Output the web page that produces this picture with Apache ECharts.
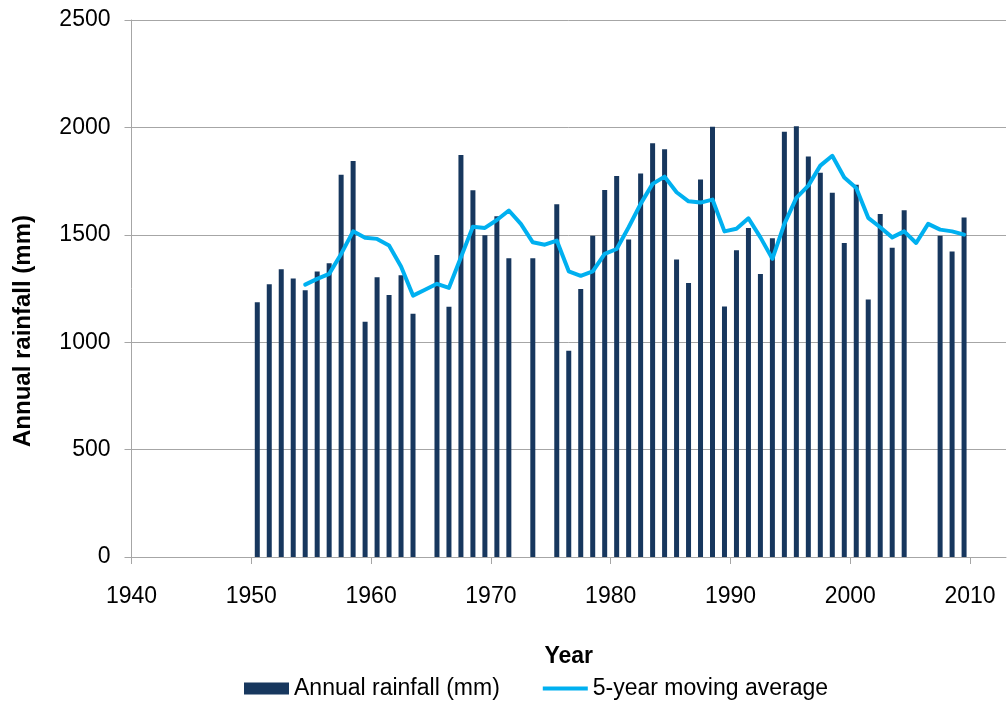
<!DOCTYPE html>
<html>
<head>
<meta charset="utf-8">
<script src="https://cdn.jsdelivr.net/npm/echarts@6/dist/echarts.min.js"></script>
<style>
html,body{margin:0;padding:0;background:#fff;}
#chart{width:1008px;height:704px;}
</style>
</head>
<body>
<div id="chart"></div>
<script>
// Annual rainfall (bars)
var rainYears = [1950,1951,1952,1953,1954,1955,1956,1957,1958,1959,
                 1960,1961,1962,1963,1965,1966,1967,1968,1969,
                 1970,1971,1973,1975,1976,1977,1978,1979,
                 1980,1981,1982,1983,1984,1985,1986,1987,1988,1989,
                 1990,1991,1992,1993,1994,1995,1996,1997,1998,1999,
                 2000,2001,2002,2003,2004,2007,2008,2009];
var rainfall = [1186,1270,1340,1296,1242,1329,1367,1779,1844,1095,
                1302,1220,1312,1132,1406,1165,1872,1707,1498,
                1586,1391,1391,1642,960,1248,1495,1709,
                1774,1478,1785,1926,1898,1385,1276,1757,2003,1166,
                1428,1532,1318,1484,1980,2005,1865,1789,1696,1462,
                1733,1199,1597,1440,1614,1496,1422,1581];

// 5-year moving average (line)
var avgYears = [1954,1955,1956,1957,1958,1959,1960,1961,1962,1963,1964,1965,1966,1967,1968,1969,
                1970,1971,1972,1973,1974,1975,1976,1977,1978,1979,
                1980,1981,1982,1983,1984,1985,1986,1987,1988,1989,
                1990,1991,1992,1993,1994,1995,1996,1997,1998,1999,
                2000,2001,2002,2003,2004,2005,2006,2007,2008,2009];
var movingAvg = [1268,1295,1318,1411,1516,1486,1481,1450,1352,1217,1244,1272,1253,1395,1538,1532,
                 1569,1613,1551,1465,1454,1473,1330,1309,1330,1411,
                 1434,1535,1644,1737,1771,1698,1656,1650,1664,1516,
                 1528,1577,1488,1388,1551,1672,1729,1822,1868,1767,
                 1718,1579,1535,1488,1516,1462,1551,1524,1516,1501];

var xTicks = [1940,1950,1960,1970,1980,1990,2000,2010];
var yTicks = [0,500,1000,1500,2000,2500];

var FONT = "'Liberation Sans', Arial, sans-serif";
var GRID_COLOR = '#a6a6a6';

// each annual value is drawn at the middle of its year
var barData = rainYears.map(function(y,i){ return [y + 0.5, rainfall[i]]; });
var lineData = avgYears.map(function(y,i){ return [y + 0.5, movingAvg[i]]; });

var chart = echarts.init(document.getElementById('chart'), null, {renderer:'canvas'});
chart.setOption({
  animation: false,
  backgroundColor: '#ffffff',
  grid: {left: 131.5, right: 2, top: 20, bottom: 147, containLabel: false},
  xAxis: {
    type: 'value',
    min: xTicks[0],
    max: 2013,
    interval: 10,
    name: 'Year',
    nameLocation: 'middle',
    nameGap: 88,
    nameTextStyle: {fontFamily: FONT, fontSize: 23, fontWeight: 'bold', color: '#000'},
    axisLine: {show: true, lineStyle: {color: GRID_COLOR, width: 1}},
    axisTick: {show: true, length: 7, customValues: xTicks, lineStyle: {color: GRID_COLOR}},
    axisLabel: {customValues: xTicks, fontFamily: FONT, fontSize: 23, color: '#000', margin: 28,
                formatter: function(v){ return String(v); }},
    splitLine: {show: false}
  },
  yAxis: {
    type: 'value',
    min: yTicks[0],
    max: yTicks[yTicks.length-1],
    interval: 500,
    axisLine: {show: true, lineStyle: {color: GRID_COLOR, width: 1}},
    axisTick: {show: true, length: 7, lineStyle: {color: GRID_COLOR}},
    axisLabel: {fontFamily: FONT, fontSize: 23, color: '#000', margin: 21,
                formatter: function(v){ return String(v); }},
    splitLine: {show: true, lineStyle: {color: GRID_COLOR, width: 1}}
  },
  legend: {
    left: 244,
    top: 677,
    padding: 0,
    itemWidth: 45,
    itemHeight: 12,
    itemGap: 43,
    textStyle: {fontFamily: FONT, fontSize: 23, color: '#000'},
    data: [
      {name: 'Annual rainfall (mm)', icon: 'rect'},
      {name: '5-year moving average', icon: 'path://M0,0L47,0L47,4L0,4Z'}
    ]
  },
  graphic: [{
    type: 'text',
    x: 23,
    y: 331,
    rotation: Math.PI/2,
    style: {
      text: 'Annual rainfall (mm)',
      fontFamily: FONT,
      fontSize: 24,
      fontWeight: 'bold',
      fill: '#000',
      align: 'center',
      verticalAlign: 'middle'
    }
  }],
  series: [
    {
      name: 'Annual rainfall (mm)',
      type: 'bar',
      data: barData,
      barWidth: 5,
      itemStyle: {color: '#17375E'},
      z: 2
    },
    {
      name: '5-year moving average',
      type: 'line',
      data: lineData,
      symbol: 'none',
      smooth: false,
      lineStyle: {color: '#00B0F0', width: 4, join: 'round', cap: 'round'},
      itemStyle: {color: '#00B0F0'},
      z: 3
    }
  ]
});
</script>
</body>
</html>
